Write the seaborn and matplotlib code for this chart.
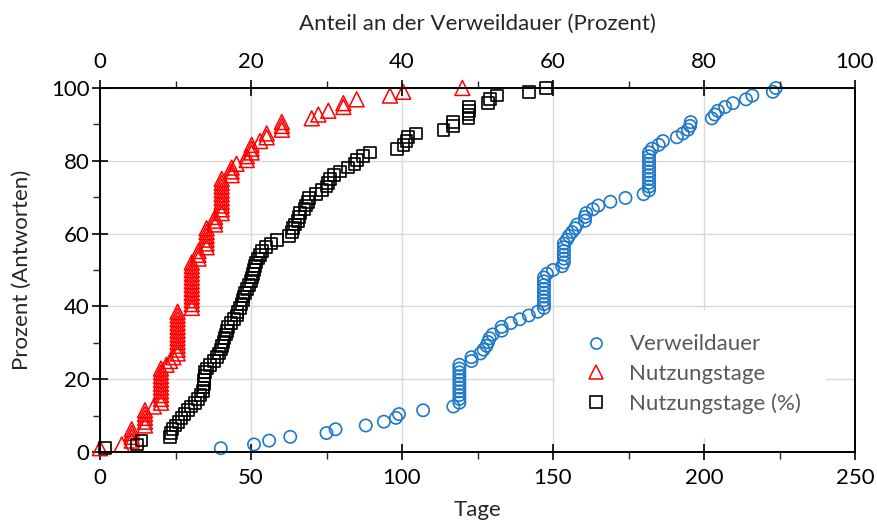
import matplotlib
matplotlib.use("Agg")
import matplotlib.pyplot as plt
import seaborn as sns
from matplotlib.ticker import MultipleLocator
from matplotlib.lines import Line2D

# ---------------- data ----------------
prozent_antworten = [
    1.04, 2.08, 3.13, 4.17, 5.21, 6.25, 7.29, 8.33, 9.38, 10.42, 11.46, 12.5,
    13.54, 14.58, 15.63, 16.67, 17.71, 18.75, 19.79, 20.83, 21.88, 22.92, 23.96, 25.0,
    26.04, 27.08, 28.13, 29.17, 30.21, 31.25, 32.29, 33.33, 34.38, 35.42, 36.46, 37.5,
    38.54, 39.58, 40.63, 41.67, 42.71, 43.75, 44.79, 45.83, 46.88, 47.92, 48.96, 50.0,
    51.04, 52.08, 53.13, 54.17, 55.21, 56.25, 57.29, 58.33, 59.38, 60.42, 61.46, 62.5,
    63.54, 64.58, 65.63, 66.67, 67.71, 68.75, 69.79, 70.83, 71.88, 72.92, 73.96, 75.0,
    76.04, 77.08, 78.13, 79.17, 80.21, 81.25, 82.29, 83.33, 84.38, 85.42, 86.46, 87.5,
    88.54, 89.58, 90.63, 91.67, 92.71, 93.75, 94.79, 95.83, 96.88, 97.92, 98.96, 100.0,
]

verweildauer_tage = [
    40, 51, 56, 63, 75, 78, 88, 94, 98, 99, 107, 117,
    119, 119, 119, 119, 119, 119, 119, 119, 119, 119, 119,
    123, 123, 126, 127, 128, 128.5, 129, 130, 133, 133, 136, 139, 142, 145,
    147, 147, 147, 147, 147, 147, 147, 147, 147,
    148, 150, 153,
    153.6, 153.6, 153.6, 153.6, 153.6, 153.6,
    154.6, 155.3, 156.3, 157.3, 158, 160.6, 160.6, 161, 163.2, 165, 169, 174, 180,
    181.8, 181.8, 181.8, 181.8, 181.8, 181.8, 181.8, 181.8, 181.8, 181.8, 181.8,
    182.8, 185, 186.4, 191, 193, 194.7, 195.4, 195.6, 202.6, 203.6, 204.6, 207,
    209.6, 213.9, 216, 222.8, 223.8,
]

nutzungstage = [
    0, 7.2, 10.5, 10.5, 10.5, 10.5, 14.9, 14.9, 14.9, 14.9, 14.9, 17.8,
    20.2, 20.2, 20.2, 20.2, 20.2, 20.2, 20.2, 20.2, 20.2, 20.2,
    22, 23.2, 24.3,
    25.7, 25.7, 25.7, 25.7, 25.7, 25.7, 25.7, 25.7, 25.7, 25.7, 25.7, 25.7,
    30.4, 30.4, 30.4, 30.4, 30.4, 30.4, 30.4, 30.4, 30.4, 30.4, 30.4, 30.4, 30.4,
    32.6, 32.6, 32.6,
    35.3, 35.3, 35.3, 35.3, 35.3, 35.3,
    38.1, 38.1, 38.1,
    40.3, 40.3, 40.3, 40.3, 40.3, 40.3, 40.3, 40.3, 40.3, 40.3,
    43.6, 43.6, 43.6, 45.2, 48.6, 48.6, 50.2, 50.2, 50.2, 53, 55.2, 55.2,
    60.2, 60.2, 60.2, 70.1, 72.3, 75.6, 80.6, 80.6, 85, 96, 100.4, 120,
]

nutzungstage_prozent = [
    0.7, 4.9, 5.5, 9.3, 9.4, 9.6, 10.0, 10.4, 10.8, 11.2,
    11.7, 12.1, 12.6, 13.0, 13.3, 13.6, 13.7, 13.75, 13.8, 13.85,
    13.95, 14.2, 14.6, 15.1, 15.5, 15.8, 16.0, 16.2, 16.35, 16.5,
    16.65, 16.8, 17.0, 17.4, 17.75, 18.1, 18.2, 18.5, 18.75, 18.9,
    19.0, 19.2, 19.45, 19.7, 20.0, 20.15, 20.3, 20.4, 20.5, 20.7,
    20.9, 21.2, 21.5, 22.0, 22.7, 23.4, 25.0, 25.4, 25.6, 25.8,
    26.2, 26.4, 26.5, 27.1, 27.3, 27.5, 27.7, 28.6, 29.4, 30.0,
    30.15, 30.5, 31.0, 31.8, 32.8, 33.7, 34.0, 34.8, 35.8, 39.3,
    40.2, 40.6, 40.8, 41.9, 45.5, 46.8, 46.8, 48.8, 48.8, 48.9,
    48.9, 51.4, 51.7, 52.6, 56.8, 59.1,
]

series_labels = ["Verweildauer", "Nutzungstage", "Nutzungstage (%)"]

# ---------------- styling ----------------
BLUE = "#1f78c8"
RED = "#ff0000"
BLACK = "#000000"
FS = 16

sns.set_theme(style="white")
plt.rcParams['font.family'] = ['Lato', 'DejaVu Sans']

fig = plt.figure(figsize=(8.77, 5.2), dpi=100)
ax = fig.add_axes([100 / 877, 68 / 520, 755 / 877, 364 / 520])
ax2 = ax.twiny()

sns.scatterplot(x=verweildauer_tage, y=prozent_antworten, ax=ax, marker='o', s=78,
                facecolors='none', edgecolor=BLUE, linewidth=1.2, legend=False,
                clip_on=False, zorder=3)
sns.scatterplot(x=nutzungstage, y=prozent_antworten, ax=ax, marker='^', s=115,
                facecolors='none', edgecolor=RED, linewidth=1.1, legend=False,
                clip_on=False, zorder=3)
sns.scatterplot(x=nutzungstage_prozent, y=prozent_antworten, ax=ax2, marker='s', s=72,
                facecolors='none', edgecolor=BLACK, linewidth=1.2, legend=False,
                clip_on=False, zorder=3)

ax.set_xlim(0, 250)
ax.set_ylim(0, 100)
ax2.set_xlim(0, 100)

ax.xaxis.set_major_locator(MultipleLocator(50))
ax.xaxis.set_minor_locator(MultipleLocator(25))
ax.yaxis.set_major_locator(MultipleLocator(20))
ax.yaxis.set_minor_locator(MultipleLocator(10))
ax2.xaxis.set_major_locator(MultipleLocator(20))
ax2.xaxis.set_minor_locator(MultipleLocator(10))

ax.set_axisbelow(True)
ax.grid(True, which='major', color='#d9d9d9', linewidth=1.0)
ax2.grid(False)

for a in (ax, ax2):
    for sp in a.spines.values():
        sp.set_visible(True)
        sp.set_color('black')
        sp.set_linewidth(1.2)

ax.tick_params(axis='both', which='major', direction='inout', length=11, width=1.2,
               labelsize=FS, colors='black', pad=6, bottom=True, left=True,
               top=False, right=False)
ax.tick_params(axis='y', which='major', pad=2)
ax.tick_params(axis='both', which='minor', direction='out', length=5, width=1.0,
               bottom=True, left=True, top=False, right=False)
ax2.tick_params(axis='x', which='major', direction='inout', length=11, width=1.2,
                labelsize=FS, colors='black', pad=6)
ax2.tick_params(axis='x', which='minor', direction='out', length=5, width=1.0)

ax.set_xlabel("Tage", fontsize=FS, labelpad=9)
ax.set_ylabel("Prozent (Antworten)", fontsize=FS, labelpad=14)
ax2.set_xlabel("Anteil an der Verweildauer (Prozent)", fontsize=FS, labelpad=16)

handles = [
    Line2D([], [], linestyle='none', marker='o', markersize=8, markerfacecolor='none',
           markeredgecolor=BLUE, markeredgewidth=1.2),
    Line2D([], [], linestyle='none', marker='^', markersize=10, markerfacecolor='none',
           markeredgecolor=RED, markeredgewidth=1.1),
    Line2D([], [], linestyle='none', marker='s', markersize=8, markerfacecolor='none',
           markeredgecolor=BLACK, markeredgewidth=1.2),
]
leg = ax2.legend(handles, series_labels, loc='upper left',
                 bbox_to_anchor=((555 - 100) / 755, (452 - 310) / 364),
                 fontsize=FS, frameon=True, facecolor='white', edgecolor='none',
                 framealpha=1.0, handlelength=1.5, handletextpad=0.75,
                 labelspacing=0.42, borderpad=1.1, borderaxespad=0.0)
for t in leg.get_texts():
    t.set_color('#595959')

fig.savefig("out.png", dpi=100)
